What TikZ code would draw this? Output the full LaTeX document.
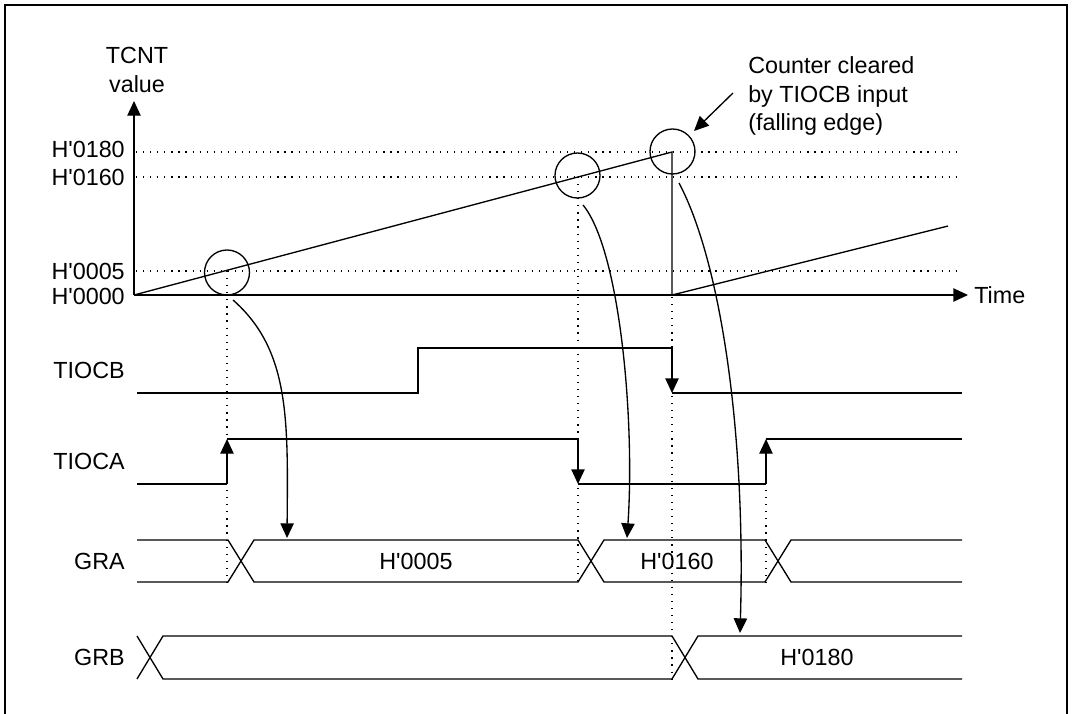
\documentclass[tikz,border=0pt]{standalone}
\usepackage{fontspec}
\setmainfont{Liberation Sans}[Ligatures=TeXOff]
\usetikzlibrary{arrows.meta}
\begin{document}
\begin{tikzpicture}[x=0.75pt,y=-0.75pt,
  every node/.style={font=\fontsize{17.5}{21.5}\selectfont, inner sep=0pt},
  sig/.style={line width=1pt},
  dots/.style={line width=0.9pt, dash pattern=on 0.9pt off 4.4pt},
  tip/.style={-{Triangle[length=11pt,width=10pt]}},
  ring/.style={circle, draw, line width=1pt, minimum size=33.75pt},
  lab/.style={anchor=east}
]
\useasboundingbox (0,0) rectangle (1076,714);
% frame
\draw[line width=1.3pt] (5,714) -- (5,5) -- (1067,5) -- (1067,714);

% axes
\coordinate (o) at (134,295);
\coordinate (ytop) at (134,101);
\coordinate (xend) at (968,295);
\draw[sig,tip] (o) -- (ytop);
\draw[sig,tip] (o) -- (xend);
\node (ylab) [align=center] at (137,70) {TCNT\\value};
\node (tlab) [anchor=west] at (974,295) {Time};

% level labels
\node[lab] (l180) at (125,149) {H'0180};
\node[lab] (l160) at (125,177) {H'0160};
\node[lab] (l005) at (125,271) {H'0005};
\node[lab] (l000) at (125,296) {H'0000};

% horizontal dotted levels
\draw[dots] (136,152) -- (962,152);
\draw[dots] (136,177) -- (962,177);
\draw[dots] (136,271) -- (962,271);

% counter ramp
\coordinate (peak) at (672,152);
\coordinate (clr) at (672,295);
\coordinate (rend) at (948,226);
\draw[sig] (o) -- (peak) -- (clr) -- (rend);

% circles
\node[ring] (c1) at (227,272.5) {};
\node[ring] (c2) at (577.5,175.5) {};
\node[ring] (c3) at (672.5,151.5) {};

% annotation
\node (note) [align=left, anchor=west] at (748,96) {Counter cleared\\by TIOCB input\\(falling edge)};
\coordinate (na) at (733,93);
\coordinate (nb) at (694,131);
\draw[sig,tip] (na) -- (nb);

% vertical dotted lines
\draw[dots] (227,271) -- (227,582);
\draw[dots] (578,177) -- (578,582);
\draw[dots] (672,297) -- (672,679);
\draw[dots] (766,490) -- (766,582);

% signal labels
\node[lab] (sb) at (125,370) {TIOCB};
\node[lab] (sa) at (125,461) {TIOCA};
\node[lab] (sgra) at (125,561) {GRA};
\node[lab] (sgrb) at (125,657) {GRB};

% TIOCB
\draw[sig] (137,393) -- (418,393) -- (418,348) -- (672,348);
\draw[sig,tip] (672,348) -- (672,393);
\draw[sig] (672,393) -- (962,393);

% TIOCA
\draw[sig] (137,484) -- (227,484);
\draw[sig,tip] (227,484) -- (227,439);
\draw[sig] (227,439) -- (578,439);
\draw[sig,tip] (578,439) -- (578,484);
\draw[sig] (578,484) -- (766,484);
\draw[sig,tip] (766,484) -- (766,439);
\draw[sig] (766,439) -- (962,439);

% GRA bus
\draw[sig] (137,540) -- (228,540) -- (254,582) -- (578,582) -- (604,540) -- (765,540) -- (791,582) -- (962,582);
\draw[sig] (137,582) -- (228,582) -- (254,540) -- (578,540) -- (604,582) -- (765,582) -- (791,540) -- (962,540);
\node (va) at (416,561) {H'0005};
\node (vb) at (677,561) {H'0160};

% GRB bus
\draw[sig] (137,636) -- (163,679) -- (672,679) -- (698,636) -- (962,636);
\draw[sig] (137,679) -- (163,636) -- (672,636) -- (698,679) -- (962,679);
\node (vc) at (817,657) {H'0180};

% curved arrows
\coordinate (s1) at (233,300);
\coordinate (e1) at (287,538);
\coordinate (s2) at (583,205);
\coordinate (e2) at (627,538);
\coordinate (s3) at (679,183);
\coordinate (e3) at (740,633);
\draw[sig,tip] (s1) .. controls (290,350) and (288,420) .. (e1);
\draw[sig,tip] (s2) .. controls (620,250) and (635,420) .. (e2);
\draw[sig,tip] (s3) .. controls (720,260) and (746,430) .. (e3);
\end{tikzpicture}
\end{document}
